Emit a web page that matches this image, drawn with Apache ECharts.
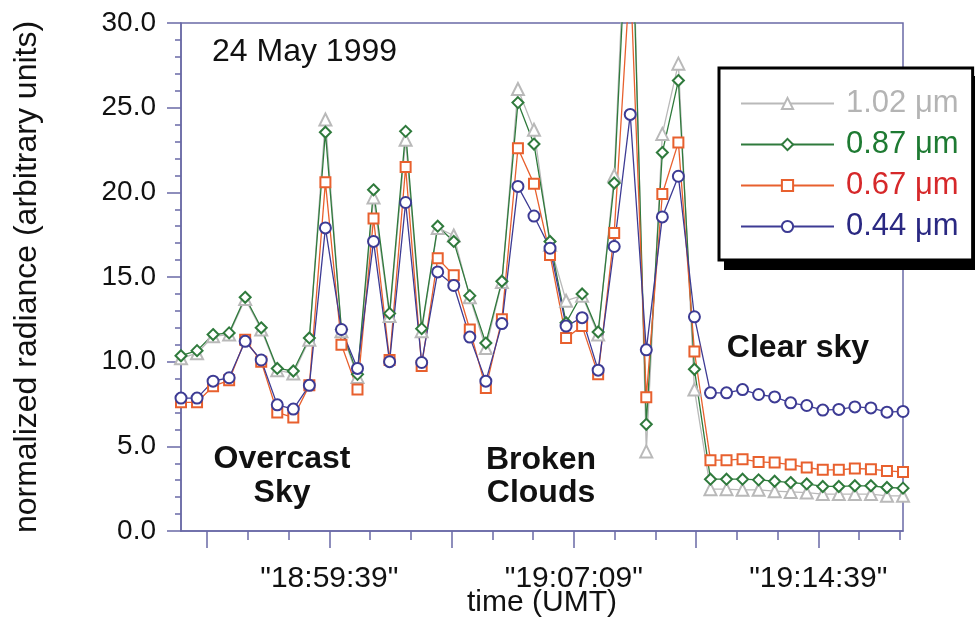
<!DOCTYPE html>
<html><head><meta charset="utf-8">
<script src="https://cdn.jsdelivr.net/npm/echarts@6/dist/echarts.min.js"></script>
<style>html,body{margin:0;padding:0;background:#fff}#c{width:975px;height:620px}</style>
</head><body><div id="c"></div>
<script>
// ---- data ----
const seriesNames = ['1.02 μm', '0.87 μm', '0.67 μm', '0.44 μm'];
const sampleNo = [1,2,3,4,5,6,7,8,9,10,11,12,13,14,15,16,17,18,19,20,21,22,23,24,25,26,27,28,29,30,31,32,33,34,35,36,37,38,39,40,41,42,43,44,45,46];
const rad102 = [10.2,10.5,11.5,11.6,13.7,11.9,9.5,9.3,11.3,24.3,11.8,9.1,19.7,12.7,23.1,11.8,17.9,17.45,13.8,10.8,14.7,26.1,23.7,16.9,13.6,13.9,11.6,21.0,42,4.7,23.45,27.6,8.35,2.47,2.47,2.43,2.43,2.35,2.31,2.27,2.18,2.18,2.18,2.18,2.08,2.08];
const rad087 = [10.35,10.65,11.6,11.7,13.8,12.0,9.6,9.45,11.4,23.55,11.9,9.25,20.15,12.85,23.6,11.95,18.0,17.1,13.9,11.1,14.75,25.3,22.85,17.1,12.3,14.0,11.75,20.55,40,6.3,22.35,26.6,9.55,3.06,3.06,3.06,3.02,2.94,2.86,2.78,2.63,2.63,2.67,2.67,2.57,2.53];
const rad067 = [7.6,7.6,8.55,8.9,11.3,10.0,7.0,6.7,8.6,20.6,11.0,8.35,18.45,10.1,21.5,9.75,16.1,15.1,11.9,8.45,12.5,22.6,20.5,16.3,11.4,12.1,9.25,17.6,33,7.9,19.9,22.95,10.6,4.18,4.18,4.24,4.08,4.04,3.92,3.75,3.61,3.61,3.69,3.65,3.55,3.49];
const rad044 = [7.85,7.85,8.85,9.05,11.2,10.1,7.45,7.2,8.6,17.9,11.9,9.6,17.1,10.0,19.4,9.95,15.3,14.5,11.45,8.85,12.25,20.35,18.6,16.7,12.1,12.6,9.5,16.8,24.6,10.7,18.55,20.95,12.65,8.16,8.16,8.35,8.06,7.92,7.57,7.41,7.14,7.18,7.33,7.27,7.02,7.06];
const xTickLabels = ['"18:59:39"', '"19:07:09"', '"19:14:39"'];
const sampleStart = '18:55:06';
const sampleEnd = '19:17:15';
const tickStepSec = 75;

// ---- helpers ----
const toSec = s => { const p = s.replace(/"/g,'').split(':').map(Number); return p[0]*3600 + p[1]*60 + p[2]; };
const xMin = toSec(sampleStart), xMax = toSec(sampleEnd);
const labelSec = xTickLabels.map(toSec);
const longTicks = [], shortTicks = [];
for (let k = -10; k <= 30; k++) {
  const t = labelSec[0] + k * tickStepSec;
  if (t < xMin || t > xMax) continue;
  if (k % 3 === 0) longTicks.push(t); else shortTicks.push(t);
}
const labelMap = {}; labelSec.forEach((s, i) => labelMap[s] = xTickLabels[i]);

const FONT = '"Liberation Sans", Arial, Helvetica, sans-serif';
const AXIS = '#6a6aa6';
const lineColors = ['#b9b9b9', '#2f7a3c', '#e8602e', '#3d3b94'];
const textColors = ['#b4b4b4', '#1e7a32', '#d6282a', '#2a2882'];
const symbols = ['emptyTriangle', 'emptyDiamond', 'emptyRect', 'emptyCircle'];
const sizes = [12, 11, 10, 11];
const allData = [rad102, rad087, rad067, rad044];

const chart = echarts.init(document.getElementById('c'), null, {renderer: 'canvas'});
chart.setOption({
  animation: false,
  backgroundColor: '#fff',
  grid: {left: 181, top: 23, width: 722, height: 508, outerBoundsMode: 'none', containLabel: false,
         show: true, borderColor: AXIS, borderWidth: 1.5, backgroundColor: 'transparent'},
  xAxis: [
    {type: 'category', data: sampleNo, boundaryGap: false, show: false},
    {type: 'value', min: xMin, max: xMax, position: 'bottom',
     name: 'time (UMT)', nameLocation: 'middle', nameGap: 57, nameMoveOverlap: false,
     nameTextStyle: {fontSize: 30, fontFamily: FONT, color: '#111'},
     axisLine: {show: true, lineStyle: {color: AXIS, width: 1.5}},
     axisTick: {show: true, inside: false, length: 17, customValues: longTicks, lineStyle: {color: AXIS, width: 1.5}},
     axisLabel: {show: true, customValues: labelSec, margin: 33, fontSize: 30, fontFamily: FONT, color: '#111',
                 formatter: v => labelMap[v] || ''},
     splitLine: {show: false}},
    {type: 'value', min: xMin, max: xMax, position: 'bottom',
     axisLine: {show: false},
     axisTick: {show: true, inside: false, length: 9, customValues: shortTicks, lineStyle: {color: AXIS, width: 1.5}},
     axisLabel: {show: false}, splitLine: {show: false}}
  ],
  yAxis: {
    type: 'value', min: 0, max: 30, interval: 5,
    name: 'normalized radiance (arbitrary units)', nameLocation: 'middle', nameGap: 138, nameMoveOverlap: false,
    nameTextStyle: {fontSize: 32, fontFamily: FONT, color: '#111'},
    axisLine: {show: true, lineStyle: {color: AXIS, width: 1.5}},
    axisTick: {show: true, inside: false, length: 14, lineStyle: {color: AXIS, width: 1.5}},
    minorTick: {show: true, splitNumber: 5, length: 6, lineStyle: {color: AXIS, width: 1.5}},
    axisLabel: {margin: 25, fontSize: 28, fontFamily: FONT, color: '#111', formatter: v => v.toFixed(1)},
    splitLine: {show: false}
  },
  legend: {
    orient: 'vertical', left: 719, top: 68, z: 10,
    padding: [20, 14, 18, 21],
    itemWidth: 93, itemHeight: 14, itemGap: 10,
    backgroundColor: '#fff', borderColor: '#000', borderWidth: 3,
    textStyle: {fontSize: 31, fontFamily: FONT, padding: [0, 0, 0, 7], lineHeight: 31},
    data: seriesNames.map((n, i) => ({name: n, textStyle: {color: textColors[i]}}))
  },
  graphic: [
    {type: 'rect', z: 5, shape: {x: 724, y: 76, width: 252, height: 194}, style: {fill: '#000'}},
    {type: 'text', x: 212, y: 52, style: {text: '24 May 1999', font: '32px ' + FONT, fill: '#111', verticalAlign: 'middle'}, z: 100},
    {type: 'text', x: 282, y: 476, style: {text: 'Overcast\nSky', font: 'bold 32px ' + FONT, fill: '#111', align: 'center', verticalAlign: 'middle', lineHeight: 34}, z: 100},
    {type: 'text', x: 541, y: 477, style: {text: 'Broken\nClouds', font: 'bold 32px ' + FONT, fill: '#111', align: 'center', verticalAlign: 'middle', lineHeight: 33}, z: 100},
    {type: 'text', x: 798, y: 348, style: {text: 'Clear sky', font: 'bold 32px ' + FONT, fill: '#111', align: 'center', verticalAlign: 'middle'}, z: 100}
  ],
  series: allData.map((d, i) => ({
    name: seriesNames[i], type: 'line', xAxisIndex: 0, data: d,
    symbol: symbols[i], symbolSize: sizes[i], showAllSymbol: true,
    lineStyle: {color: lineColors[i], width: 1.3},
    itemStyle: {color: lineColors[i], borderWidth: 1.3},
    clip: true
  }))
});
</script></body></html>
